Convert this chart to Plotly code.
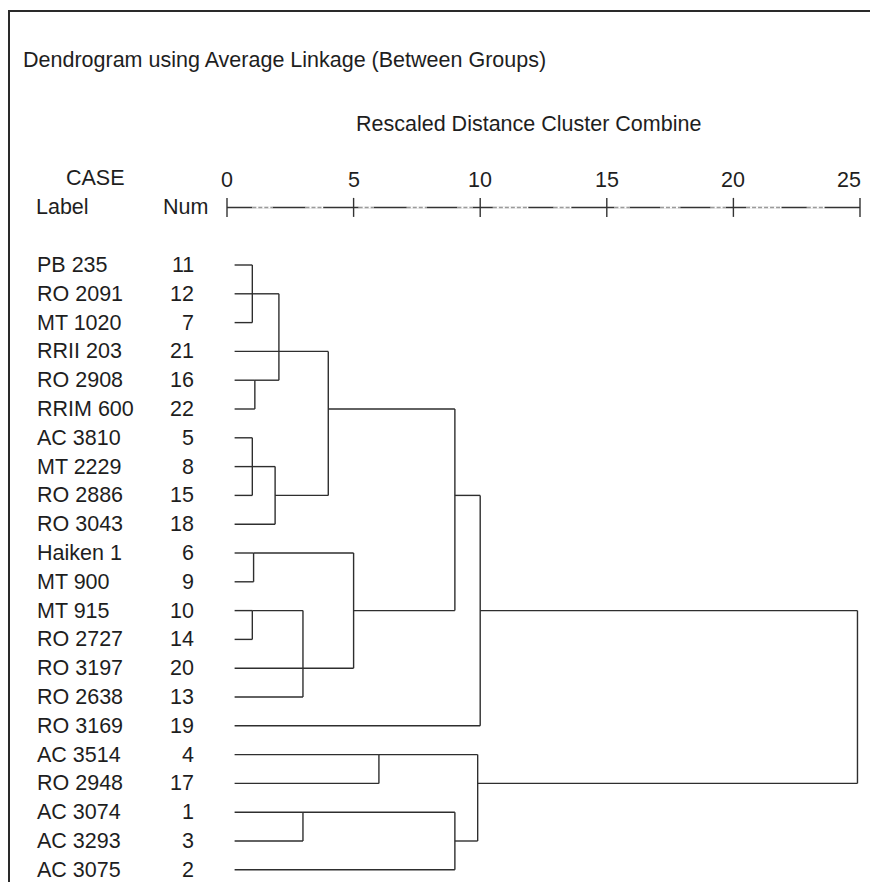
import plotly.graph_objects as go

# ---------------- data ----------------
case_labels = ["PB 235", "RO 2091", "MT 1020", "RRII 203", "RO 2908", "RRIM 600",
               "AC 3810", "MT 2229", "RO 2886", "RO 3043", "Haiken 1", "MT 900",
               "MT 915", "RO 2727", "RO 3197", "RO 2638", "RO 3169", "AC 3514",
               "RO 2948", "AC 3074", "AC 3293", "AC 3075"]
case_nums = [11, 12, 7, 21, 16, 22, 5, 8, 15, 18, 6, 9, 10, 14, 20, 13, 19, 4, 17, 1, 3, 2]

# agglomeration steps: children (leaf ids 0..21 in display order, new nodes numbered from 22),
# rescaled distance of the join, and display row where the joined branch continues
merge_children = [[0, 1, 2], [4, 5], [22, 3, 23], [6, 7, 8], [25, 9], [24, 26],
                  [10, 11], [12, 13], [29, 14, 15], [28, 30], [27, 31], [32, 16],
                  [17, 18], [19, 20], [35, 21], [34, 36], [33, 37]]
merge_dist = [1.0, 1.1, 2.05, 1.0, 1.9, 4.0, 1.05, 1.0, 3.0, 5.0, 9.0, 10.0,
              6.0, 3.0, 9.0, 9.9, 24.9]
merge_row = [1, 4, 3, 7, 8, 5, 10, 12, 14, 12, 8, 12, 17, 19, 20, 18, 15]

axis_ticks = [0, 5, 10, 15, 20, 25]

title_text = "Dendrogram using Average Linkage (Between Groups)"
axis_title = "Rescaled Distance Cluster Combine"

# ---------------- style / layout constants ----------------
W, H = 870, 882
PX0, PX_PER_UNIT = 227.0, 25.32     # pixel of distance 0, pixels per unit
ROW0, ROW_STEP = 265.0, 28.8        # pixel of first row, pixels per row
LEAF_START = 0.3
FONT = "Liberation Sans, Arial, Helvetica, sans-serif"
FS = 21.5
TXT = "#1e1e1e"
LINE = "#2e2e2e"


def px_x(px):          # page pixel -> paper fraction
    return px / W


def px_y(py):
    return 1 - py / H


x_range = [-PX0 / PX_PER_UNIT, (W - PX0) / PX_PER_UNIT]
y_range = [(H - ROW0) / ROW_STEP, -ROW0 / ROW_STEP]

# ---------------- build dendrogram segments ----------------
n_leaves = len(case_labels)
node_x = {i: LEAF_START for i in range(n_leaves)}
node_row = {i: i for i in range(n_leaves)}
xs, ys = [], []
for k, children in enumerate(merge_children):
    d = merge_dist[k]
    rows = []
    for c in children:
        xs += [node_x[c], d, None]
        ys += [node_row[c], node_row[c], None]
        rows.append(node_row[c])
    xs += [d, d, None]
    ys += [min(rows), max(rows), None]
    nid = n_leaves + k
    node_x[nid] = d
    node_row[nid] = merge_row[k]

fig = go.Figure()
fig.add_trace(go.Scatter(x=xs, y=ys, mode="lines",
                         line=dict(color=LINE, width=1.4),
                         hoverinfo="skip", showlegend=False))

# ---------------- scale line (text-style axis) ----------------
AXIS_ROW = -2.0
fig.add_trace(go.Scatter(x=[axis_ticks[0], axis_ticks[-1]], y=[AXIS_ROW, AXIS_ROW],
                         mode="lines", line=dict(color="#333333", width=1.5),
                         hoverinfo="skip", showlegend=False))
light = [(1.0, 1.8), (3.1, 3.8), (5.2, 5.8), (7.1, 7.9), (9.1, 9.7), (10.5, 11.9),
         (12.9, 13.6), (15.3, 15.9), (17.1, 17.9), (19.1, 19.7), (20.5, 21.9), (22.9, 23.6)]
lx, ly = [], []
for a, b in light:
    lx += [a, b, None]
    ly += [AXIS_ROW, AXIS_ROW, None]
fig.add_trace(go.Scatter(x=lx, y=ly, mode="lines", line=dict(color="white", width=2.5),
                         hoverinfo="skip", showlegend=False))
fig.add_trace(go.Scatter(x=lx, y=ly, mode="lines",
                         line=dict(color="#9a9a9a", width=1.5, dash="4px,2px"),
                         hoverinfo="skip", showlegend=False))
tx, ty = [], []
for t in axis_ticks:
    tx += [t, t, None]
    ty += [AXIS_ROW - 0.33, AXIS_ROW + 0.33, None]
fig.add_trace(go.Scatter(x=tx, y=ty, mode="lines", line=dict(color="#333333", width=1.4),
                         hoverinfo="skip", showlegend=False))

annotations = []


def add_text(text, x, y, xanchor="left", xref="x", yref="y"):
    annotations.append(dict(text=text, x=x, y=y, xref=xref, yref=yref,
                            xanchor=xanchor, yanchor="middle", showarrow=False,
                            font=dict(family=FONT, size=FS, color=TXT)))


for j, t in enumerate(axis_ticks):
    if j == len(axis_ticks) - 1:
        # last label sits against the right edge, ending just past its tick
        add_text(str(t), t + 0.12, -2.95, xanchor="right")
    else:
        add_text(str(t), t, -2.95, xanchor="center")

x_lab = (35 - PX0) / PX_PER_UNIT
x_num = (196 - PX0) / PX_PER_UNIT
for i, (lab, num) in enumerate(zip(case_labels, case_nums)):
    add_text(lab, x_lab, i)
    add_text(str(num), x_num, i, xanchor="right")

add_text("CASE", px_x(95), px_y(178), xanchor="center", xref="paper", yref="paper")
add_text("Label", px_x(34), px_y(207), xref="paper", yref="paper")
add_text("Num", px_x(161), px_y(207), xref="paper", yref="paper")
add_text(title_text, px_x(21), px_y(60), xref="paper", yref="paper")
add_text(axis_title, px_x(354), px_y(124), xref="paper", yref="paper")

shapes = [
    dict(type="line", xref="paper", yref="paper", x0=px_x(8), x1=1.02,
         y0=px_y(11), y1=px_y(11), line=dict(color="#2a2a2a", width=2)),
    dict(type="line", xref="paper", yref="paper", x0=px_x(9), x1=px_x(9),
         y0=px_y(11), y1=-0.02, line=dict(color="#2a2a2a", width=2)),
]

fig.update_layout(
    width=W, height=H,
    margin=dict(l=0, r=0, t=0, b=0),
    paper_bgcolor="white", plot_bgcolor="white",
    xaxis=dict(range=x_range, visible=False, fixedrange=True),
    yaxis=dict(range=y_range, visible=False, fixedrange=True),
    annotations=annotations, shapes=shapes,
    showlegend=False,
)

fig.write_html("out.html",
               config={"displayModeBar": False},
               post_script="document.body.style.margin='0';"
                           "document.body.style.overflow='hidden';")
